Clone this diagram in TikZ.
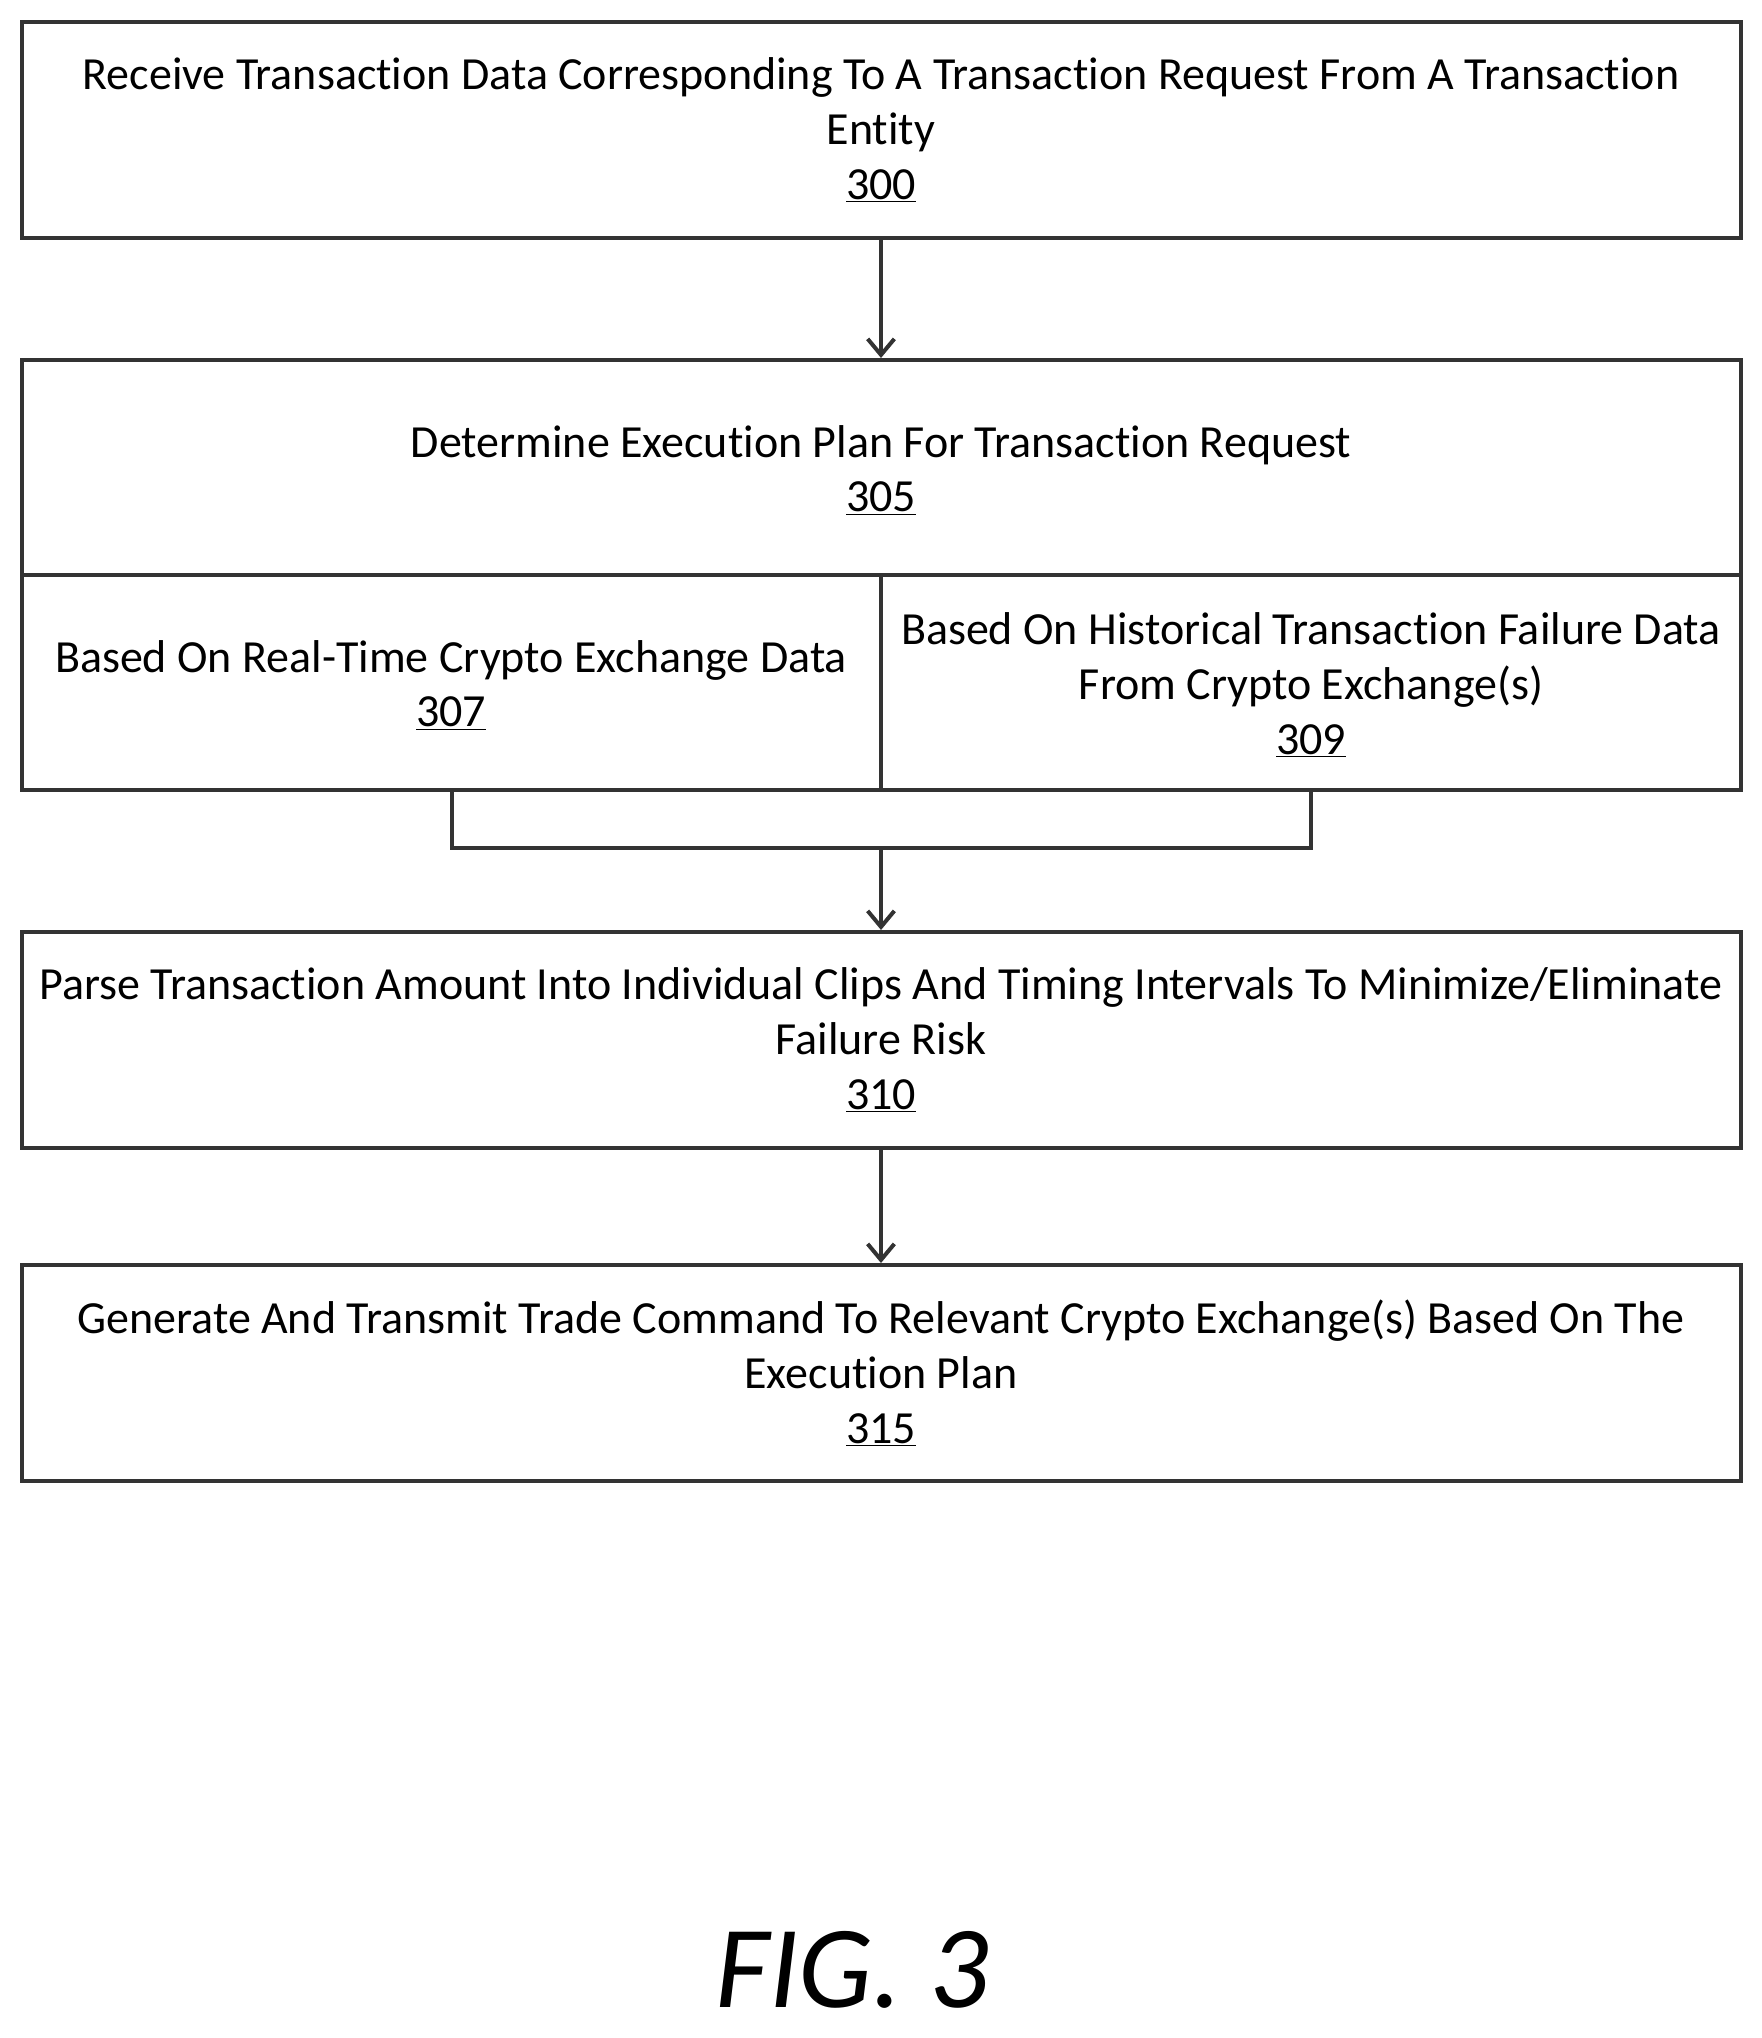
\documentclass[tikz,border=0pt]{standalone}
\usepackage{fontspec}
\setmainfont{Carlito}[Ligatures={NoCommon}]
\usetikzlibrary{arrows.meta}
\begin{document}
\begin{tikzpicture}[x=0.75pt,y=-0.75pt,
  box/.style={draw=black!80,line width=3pt},
  txt/.style={align=center,font=\fontsize{34.5}{41}\selectfont},
  conn/.style={draw=black!80,line width=3pt},
  arr/.style={conn,-{Straight Barb[length=12pt,width=20pt]}}]
\useasboundingbox (0,0) rectangle (1762,2038);
\node[box,minimum width=1719*0.75pt,minimum height=216*0.75pt] (b300) at (881,130) {};
\node[txt] (t300) at (881,130) {Receive Transaction Data Corresponding To A Transaction Request From A Transaction\\Entity\\\underline{300}};
\node[box,minimum width=1719*0.75pt,minimum height=215*0.75pt] (b305) at (881,467.5) {};
\node[txt] (t305) at (881,470) {Determine Execution Plan For Transaction Request\\\underline{305}};
\node[box,minimum width=859*0.75pt,minimum height=215*0.75pt] (b307) at (451.5,682.5) {};
\node[txt] (t307) at (451,685) {Based On Real-Time Crypto Exchange Data\\\underline{307}};
\node[box,minimum width=860*0.75pt,minimum height=215*0.75pt] (b309) at (1311,682.5) {};
\node[txt] (t309) at (1311,685) {Based On Historical Transaction Failure Data\\From Crypto Exchange(s)\\\underline{309}};
\node[box,minimum width=1719*0.75pt,minimum height=216*0.75pt] (b310) at (881,1040) {};
\node[txt] (t310) at (881,1040) {Parse Transaction Amount Into Individual Clips And Timing Intervals To Minimize/Eliminate\\Failure Risk\\\underline{310}};
\node[box,minimum width=1719*0.75pt,minimum height=216*0.75pt] (b315) at (881,1373) {};
\node[txt] (t315) at (881,1373) {Generate And Transmit Trade Command To Relevant Crypto Exchange(s) Based On The\\Execution Plan\\\underline{315}};
\coordinate (j) at (881,848);
\draw[arr] (b300.south) -- (b305.north);
\draw[conn] (b307.south) -- (b307.south |- j) -- (b309.south |- j) -- (b309.south);
\draw[arr] (j) -- (b310.north);
\draw[arr] (b310.south) -- (b315.north);
\node[font=\itshape\fontsize{88}{96}\selectfont,inner sep=0pt] (fig) at (852,1970) {FIG. 3};
\end{tikzpicture}
\end{document}
